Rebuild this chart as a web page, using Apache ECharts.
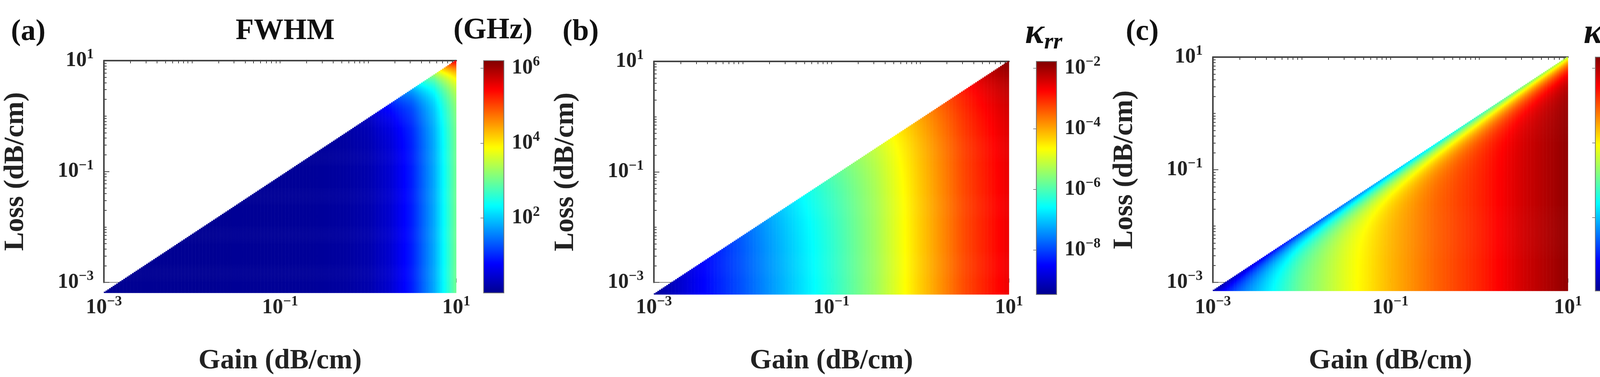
<!DOCTYPE html>
<html>
<head>
<meta charset="utf-8">
<script src="https://cdn.jsdelivr.net/npm/echarts@6/dist/echarts.min.js"></script>
<style>
  html, body { margin: 0; padding: 0; background: #fff; }
  #main { width: 4275px; height: 964px; }
</style>
</head>
<body>
<div id="main"></div>
<script>
// log10 gain positions where profiles are read
var gainPtsA = [-3, -2.75, -2.5, -2.25, -2, -1.75, -1.5, -1.25, -1, -0.75, -0.5, -0.25, 0, 0.25, 0.5, 0.75, 1];
var gainPts = [-3, -2.5, -2, -1.5, -1, -0.5, 0, 0.5, 1];

// log10 of value along bottom edge (loss = 1e-3) and along the diagonal (loss = gain)
var fwhmBottom = [0.03, 0.03, 0.03, 0.03, 0.03, 0.03, 0.04, 0.04, 0.05, 0.06, 0.08, 0.12, 0.2, 0.45, 0.95, 1.8, 3.0];
var fwhmDiag   = [0.03, 0.03, 0.03, 0.03, 0.03, 0.03, 0.04, 0.04, 0.05, 0.06, 0.08, 0.14, 0.3, 0.95, 1.8, 3.2, 5.6];
var krrBottom = [-9.4, -8.6, -7.9, -7.1, -6.3, -5.4, -4.3, -3.3, -2.6];
var krrDiag   = [-9.4, -8.6, -7.8, -6.9, -6.0, -5.1, -4.0, -2.9, -1.8];
var krbBottom = [-5.8, -4.9, -3.9, -3.2, -2.6, -2.1, -1.7, -1.2, -0.8];
var krbDiag   = [-6.8, -6.3, -5.8, -5.4, -5.0, -4.6, -4.2, -3.8, -3.4];

// colour bar ranges (log10) and ticks
var fwhmRange = [0, 6.2], fwhmTicks = [2, 4, 6];
var krrRange = [-9.47, -1.78], krrTicks = [-8, -6, -4, -2];
var krbRange = [-6.97, -0.7], krbTicks = [-5, -3, -1];
var axisTicks = [-3, -1, 1];

var jet = ['#00008f', '#0000ff', '#0080ff', '#00ffff', '#80ff80', '#ffff00', '#ff8000', '#ff0000', '#800000'];
var N = 200;
var FONT = '"Liberation Serif", "Times New Roman", serif';

// log minor tick positions over the 4 decades
var minorTicks = [];
for (var d = -3; d < 1; d++) {
  for (var m = 1; m <= 9; m++) minorTicks.push(d + Math.log10(m));
}

function interp(xs, ys, x) {
  if (x <= xs[0]) return ys[0];
  for (var k = 1; k < xs.length; k++) {
    if (x <= xs[k]) {
      var t = (x - xs[k - 1]) / (xs[k] - xs[k - 1]);
      return ys[k - 1] + t * (ys[k] - ys[k - 1]);
    }
  }
  return ys[ys.length - 1];
}

function field(xs, bottom, diag, s) {
  var out = [];
  for (var i = 0; i < N; i++) {
    var gx = -3 + 4 * (i + 0.5) / N;
    var b = interp(xs, bottom, gx), dg = interp(xs, diag, gx);
    for (var j = 0; j <= i; j++) {
      var ly = -3 + 4 * (j + 0.5) / N;
      var w = Math.exp(-(gx - ly) / s);
      out.push([i, j, b + (dg - b) * w]);
    }
  }
  return out;
}

function sup(v) {
  var t = v < 0 ? '\u2212' + (-v) : '' + v;
  return '{b|10}{s|' + t + '}';
}
var rich = {
  b: { fontFamily: FONT, fontWeight: 'bold', fontSize: 54, color: '#222' },
  s: { fontFamily: FONT, fontWeight: 'bold', fontSize: 36, color: '#222', padding: [0, 0, 30, 0] }
};
var nameStyle = { fontFamily: FONT, fontWeight: 'bold', fontSize: 72, color: '#222' };

var idx = [];
for (var k = 0; k < N; k++) idx.push(k);

var panels = [
  { l: 266, w: 902, t: 155, h: 594, cb: 1238, data: field(gainPtsA, fwhmBottom, fwhmDiag, 0.3), range: fwhmRange, ticks: fwhmTicks },
  { l: 1674, w: 909, t: 157, h: 596, cb: 2653, data: field(gainPts, krrBottom, krrDiag, 0.6), range: krrRange, ticks: krrTicks },
  { l: 3105, w: 909, t: 146, h: 598, cb: 4084, data: field(gainPts, krbBottom, krbDiag, 0.22), range: krbRange, ticks: krbTicks }
];

var grid = [], xAxis = [], yAxis = [], series = [], visualMap = [], frames = [];
panels.forEach(function (p, n) {
  var g0 = grid.length;
  grid.push({ left: p.l, top: p.t, width: p.w, height: p.h });
  grid.push({ left: p.l, top: p.t, width: p.w, height: p.h });
  grid.push({ left: p.cb, top: p.t, width: 52, height: p.h });

  var hx = xAxis.length, hy = yAxis.length;
  xAxis.push({ type: 'category', gridIndex: g0, data: idx, show: false });
  yAxis.push({ type: 'category', gridIndex: g0, data: idx, show: false });

  // bottom axis with labels
  xAxis.push({
    type: 'value', gridIndex: g0 + 1, min: -3, max: 1,
    name: 'Gain (dB/cm)', nameLocation: 'middle', nameGap: 165, nameTextStyle: nameStyle,
    axisLine: { onZero: false, lineStyle: { color: '#888', width: 2 } },
    axisTick: { inside: true, length: 10, customValues: axisTicks, lineStyle: { color: '#555' } },
    axisLabel: { customValues: axisTicks, formatter: sup, rich: rich, margin: 32 },
    splitLine: { show: false }
  });
  // top frame with log minor ticks
  xAxis.push({
    type: 'value', gridIndex: g0 + 1, min: -3, max: 1, position: 'top',
    axisLine: { show: true, onZero: false, lineStyle: { color: '#444', width: 4 } },
    axisTick: { show: true, inside: true, length: 7, customValues: minorTicks, lineStyle: { color: '#444', width: 2 } },
    axisLabel: { show: false }, splitLine: { show: false }
  });
  yAxis.push({
    type: 'value', gridIndex: g0 + 1, min: -3, max: 1,
    name: 'Loss (dB/cm)', nameLocation: 'middle', nameGap: 190, nameTextStyle: nameStyle,
    axisLine: { show: true, onZero: false, lineStyle: { color: '#444', width: 4 } },
    axisTick: { inside: true, length: 14, customValues: axisTicks, lineStyle: { color: '#444', width: 2 } },
    axisLabel: { customValues: axisTicks, formatter: sup, rich: rich, margin: 26 },
    splitLine: { show: false }
  });
  // left minor ticks
  yAxis.push({
    type: 'value', gridIndex: g0 + 1, min: -3, max: 1, position: 'left',
    axisLine: { show: false, onZero: false },
    axisTick: { show: true, inside: true, length: 7, customValues: minorTicks, lineStyle: { color: '#444', width: 2 } },
    axisLabel: { show: false }, splitLine: { show: false }
  });

  xAxis.push({ type: 'value', gridIndex: g0 + 2, show: false });
  yAxis.push({
    type: 'value', gridIndex: g0 + 2, min: p.range[0], max: p.range[1], position: 'right',
    axisLine: { show: false },
    axisTick: { inside: true, length: 8, customValues: p.ticks, lineStyle: { color: '#333' } },
    axisLabel: { customValues: p.ticks, formatter: sup, rich: rich, margin: 20 },
    splitLine: { show: false }
  });

  series.push({
    type: 'heatmap', xAxisIndex: hx, yAxisIndex: hy,
    data: p.data, progressive: 0, emphasis: { disabled: true }
  });

  visualMap.push({
    type: 'continuous', seriesIndex: n, dimension: 2,
    min: p.range[0], max: p.range[1], calculable: false,
    left: p.cb, top: p.t, itemWidth: 52, itemHeight: p.h, padding: 0,
    text: null, showLabel: false,
    inRange: { color: jet }
  });

  frames.push({
    type: 'rect', z: 100, silent: true,
    shape: { x: p.cb, y: p.t, width: 52, height: p.h },
    style: { fill: 'none', stroke: '#777', lineWidth: 2 }
  });
});

function txt(x, y, text, size, align) {
  return {
    type: 'text', x: x, y: y,
    style: { text: text, fontFamily: FONT, fontWeight: 'bold', fontSize: size, fill: '#111', align: align, verticalAlign: 'middle' }
  };
}
var kRich = {
  k: { fontFamily: FONT, fontWeight: 'bold', fontStyle: 'italic', fontSize: 92, fill: '#111' },
  sb: { fontFamily: FONT, fontWeight: 'bold', fontStyle: 'italic', fontSize: 60, fill: '#111', padding: [44, 0, 0, 0] }
};

var chart = echarts.init(document.getElementById('main'), null, { renderer: 'canvas' });
chart.setOption({
  backgroundColor: '#fff',
  animation: false,
  grid: grid, xAxis: xAxis, yAxis: yAxis, series: series, visualMap: visualMap,
  graphic: frames.concat([
    txt(28, 82, '(a)', 76, 'left'),
    txt(730, 80, 'FWHM', 76, 'center'),
    txt(1262, 78, '(GHz)', 76, 'center'),
    txt(1440, 82, '(b)', 76, 'left'),
    txt(2882, 82, '(c)', 76, 'left'),
    { type: 'text', x: 2672, y: 86, style: { text: '{k|\u03ba}{sb|rr}', rich: kRich, align: 'center', verticalAlign: 'middle' } },
    { type: 'text', x: 4105, y: 86, style: { text: '{k|\u03ba}{sb|rb}', rich: kRich, align: 'center', verticalAlign: 'middle' } }
  ])
});
</script>
</body>
</html>
